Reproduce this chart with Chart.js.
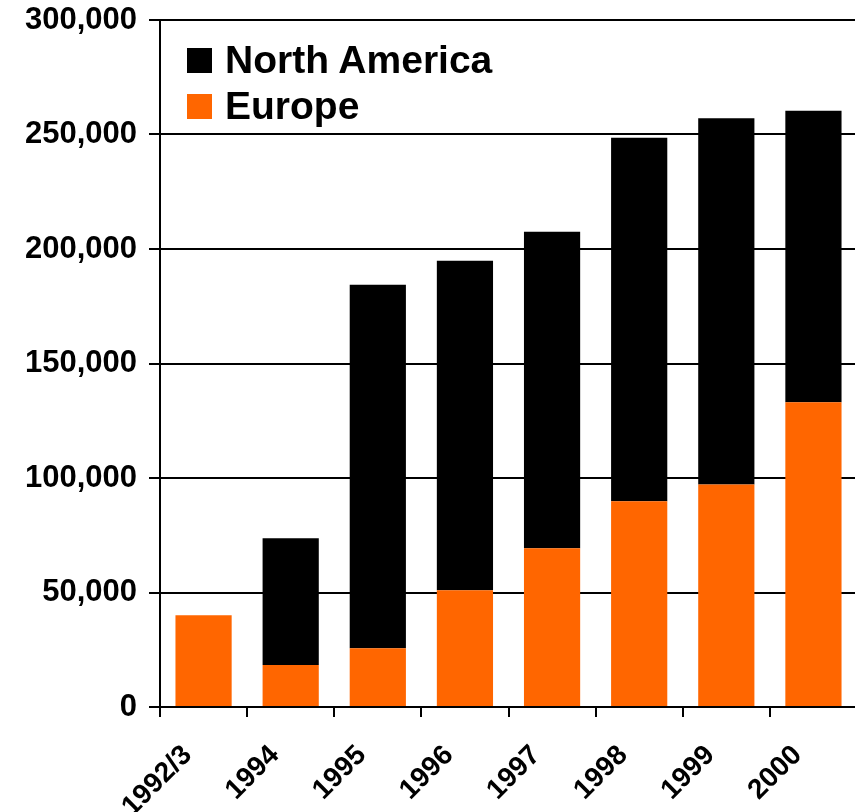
<!DOCTYPE html>
<html>
<head>
<meta charset="utf-8">
<script src="https://cdn.jsdelivr.net/npm/chart.js@4.4.1/dist/chart.umd.min.js"></script>
<style>
    html, body { margin:0; padding:0; background:#fff; overflow:hidden; }
    #wrap { position:relative; width:857px; height:812px; }
    #legend { position:absolute; left:187px; top:37px; font-family:"Liberation Sans", Arial, sans-serif; font-weight:bold; font-size:39px; color:#000; }
    #legend .row { display:flex; align-items:center; height:46px; }
    #legend .box { width:25px; height:25px; margin-right:13px; }
</style>
</head>
<body>
<div id="wrap">
    <canvas id="chart" width="857" height="812"></canvas>
    <div id="legend"></div>
</div>
<script>
// categories and values
const years = ["1992/3","1994","1995","1996","1997","1998","1999","2000"];
const europe = [40100, 18300, 25700, 51000, 69300, 89900, 97200, 133100];
const northAmerica = [0, 55400, 158700, 143900, 138200, 158700, 159900, 127300];
const yTicks = [0, 50000, 100000, 150000, 200000, 250000, 300000];

const ORANGE = "#ff6600";
const BLACK = "#000000";
const font = { family:"'Liberation Sans', Arial, sans-serif", weight:"bold", size:31 };

const ctx = document.getElementById("chart").getContext("2d");
const chart = new Chart(ctx, {
    type:"bar",
    data:{
        labels: years,
        datasets:[
            { label:"Europe", data: europe, backgroundColor: ORANGE, categoryPercentage:1, barPercentage:0.645 },
            { label:"North America", data: northAmerica, backgroundColor: BLACK, categoryPercentage:1, barPercentage:0.645 }
        ]
    },
    options:{
        responsive:false,
        animation:false,
        devicePixelRatio:1,
        layout:{ padding:{ top:20, right:0, left:0, bottom:0 } },
        plugins:{ legend:{ display:false }, tooltip:{ enabled:false } },
        scales:{
            x:{
                stacked:true,
                grid:{ display:true, drawOnChartArea:false, color:BLACK, lineWidth:2, tickLength:10, offset:true },
                border:{ display:true, color:BLACK, width:2 },
                ticks:{ color:BLACK, font:{ ...font, size:28 }, maxRotation:45, minRotation:45, padding:22, labelOffset:-16 },
                afterFit: s => { s.height = 105; s.paddingLeft = 0; s.paddingRight = 0; }
            },
            y:{
                stacked:true,
                min:0, max:300000,
                afterBuildTicks: s => { s.ticks = yTicks.map(v => ({ value:v })); },
                grid:{ color:BLACK, lineWidth:2, tickLength:11 },
                border:{ display:true, color:BLACK, width:2 },
                ticks:{ color:BLACK, font, padding:12, callback: v => v.toLocaleString("en-US") },
                afterFit: s => { s.width = 160; s.paddingTop = 0; s.paddingBottom = 0; }
            }
        }
    }
});

// legend in the plot, North America listed first
const legendEl = document.getElementById("legend");
[...chart.data.datasets].reverse().forEach(ds => {
    const row = document.createElement("div");
    row.className = "row";
    row.innerHTML = `<div class="box" style="background:${ds.backgroundColor}"></div><span>${ds.label}</span>`;
    legendEl.appendChild(row);
});
</script>
</body>
</html>
